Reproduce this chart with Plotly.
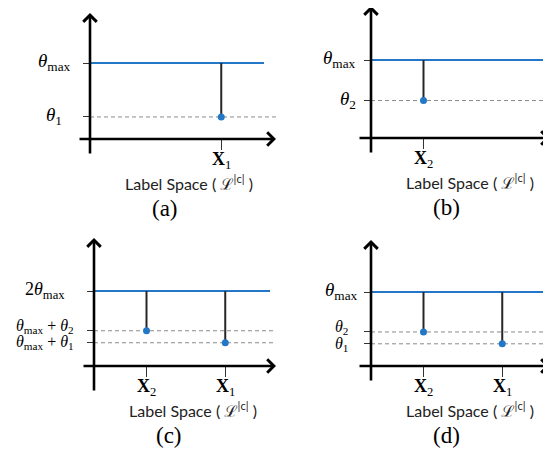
import plotly.graph_objects as go

# The page body has an 8px default margin, so the figure is drawn 8px in.
OFF = 8
W, H = 551 - OFF, 454 - OFF

# ---------------- data ----------------
captions = ["(a)", "(b)", "(c)", "(d)"]
label_names = ["X2", "X1"]
label_positions = [1.0, 2.5]
upper_level = 1.0
upper_texts = ["<i>θ</i><sub>max</sub>", "<i>θ</i><sub>max</sub>",
               "2<i>θ</i><sub>max</sub>", "<i>θ</i><sub>max</sub>"]
a_points = ["X1"]
a_levels = [0.29]
a_level_texts = ["<i>θ</i><sub>1</sub>"]
b_points = ["X2"]
b_levels = [0.48]
b_level_texts = ["<i>θ</i><sub>2</sub>"]
c_points = ["X2", "X1"]
c_levels = [0.47, 0.31]
c_level_texts = ["<i>θ</i><sub>max</sub> + <i>θ</i><sub>2</sub>",
                 "<i>θ</i><sub>max</sub> + <i>θ</i><sub>1</sub>"]
d_points = ["X2", "X1"]
d_levels = [0.46, 0.30]
d_level_texts = ["<i>θ</i><sub>2</sub>", "<i>θ</i><sub>1</sub>"]
x_label_texts = {"X1": "<b>X</b><sub>1</sub>", "X2": "<b>X</b><sub>2</sub>"}
axis_title = "Label Space ( ℒ<sup>|c|</sup> )"

# ---------------- geometry (pixels in the reference window) ----------------
SX = 52.5
geom = [
    dict(ox=90, oy=139, sy=76, xl=78, xt=276, yb=155, yt=13, blue=264, dash=276,
         lab_anchor="center", lab_shift=-36, up_size=19, low_size=19, low_dy=[1]),
    dict(ox=371, oy=138, sy=78, xl=358, xt=550, yb=154, yt=6, blue=543, dash=551,
         lab_anchor="right", lab_shift=-13, up_size=19, low_size=19, low_dy=[1]),
    dict(ox=94, oy=366, sy=75, xl=82, xt=276, yb=392, yt=238, blue=270, dash=276,
         lab_anchor="center", lab_shift=-49, up_size=18, low_size=16, low_dy=[4, 0]),
    dict(ox=371, oy=366, sy=74, xl=358, xt=550, yb=382, yt=240, blue=548, dash=551,
         lab_anchor="center", lab_shift=-30, up_size=19, low_size=16, low_dy=[4, -1]),
]
panels = [
    (a_points, a_levels, a_level_texts),
    (b_points, b_levels, b_level_texts),
    (c_points, c_levels, c_level_texts),
    (d_points, d_levels, d_level_texts),
]

BLUE = "#2278c6"
SERIF = "Liberation Serif, Times New Roman, serif"
SANS = "Lato, Noto Sans, DejaVu Sans, sans-serif"

fig = go.Figure()
layout = dict(width=W, height=H, margin=dict(l=0, r=0, t=0, b=0),
              paper_bgcolor="white", plot_bgcolor="white", showlegend=False)
annotations = []
pos_of = dict(zip(label_names, label_positions))

for i, (g, (pts, levels, ltexts)) in enumerate(zip(geom, panels)):
    k = "" if i == 0 else str(i + 1)
    xr, yr = "x" + k, "y" + k
    ox, oy, sy = g["ox"] - OFF, g["oy"] - OFF, g["sy"]
    xl, xt, yb, yt = g["xl"] - OFF, g["xt"] - OFF, g["yb"] - OFF, g["yt"] - OFF
    blue, dash = g["blue"] - OFF, g["dash"] - OFF
    dl, dr = max(xl - 3, 0), min(dash + 2, W)
    dt, db = max(yt - 3, 0), min(yb + 3, H)
    to_ux = lambda px: (px - ox) / SX
    to_uy = lambda py: (oy - py) / sy

    layout["xaxis" + k] = dict(domain=[dl / W, dr / W], range=[to_ux(dl), to_ux(dr)],
                               anchor="free", position=1 - oy / H,
                               tickvals=[pos_of[p] for p in pts], ticks="outside",
                               ticklen=10, tickwidth=1.2, tickcolor="#333",
                               showticklabels=False, showline=False, showgrid=False,
                               zeroline=False, fixedrange=True)
    layout["yaxis" + k] = dict(domain=[1 - db / H, 1 - dt / H], range=[to_uy(db), to_uy(dt)],
                               anchor="free", position=ox / W,
                               tickvals=[upper_level] + levels, ticks="outside",
                               ticklen=7, tickwidth=1.2, tickcolor="#333",
                               showticklabels=False, showline=False, showgrid=False,
                               zeroline=False, fixedrange=True)

    for lv in levels:
        fig.add_trace(go.Scatter(x=[0, to_ux(dash)], y=[lv, lv], mode="lines",
                                 line=dict(color="#8a8a8a", width=1, dash="4px,3px"),
                                 xaxis=xr, yaxis=yr, hoverinfo="skip"))
    fig.add_trace(go.Scatter(x=[0, to_ux(blue)], y=[upper_level, upper_level],
                             mode="lines", line=dict(color=BLUE, width=2),
                             xaxis=xr, yaxis=yr, hoverinfo="skip"))
    for p, lv in zip(pts, levels):
        fig.add_trace(go.Scatter(x=[pos_of[p], pos_of[p]], y=[lv, upper_level],
                                 mode="lines", line=dict(color="#262626", width=2),
                                 xaxis=xr, yaxis=yr, hoverinfo="skip"))
    fig.add_trace(go.Scatter(x=[pos_of[p] for p in pts], y=levels, mode="markers",
                             marker=dict(color=BLUE, size=7),
                             xaxis=xr, yaxis=yr, hoverinfo="skip", cliponaxis=False))

    annotations.append(dict(xref=xr, yref=yr, axref=xr, ayref=yr,
                            x=to_ux(xt), y=0, ax=to_ux(xl), ay=0, text="",
                            showarrow=True, arrowhead=4, arrowsize=1.0, arrowwidth=2.6,
                            arrowcolor="black", standoff=0, startstandoff=0))
    annotations.append(dict(xref=xr, yref=yr, axref=xr, ayref=yr,
                            x=0, y=to_uy(yt), ax=0, ay=to_uy(yb), text="",
                            showarrow=True, arrowhead=4, arrowsize=1.0, arrowwidth=2.6,
                            arrowcolor="black", standoff=0, startstandoff=0))

    labels = [(upper_level, upper_texts[i], g["up_size"], 1)] + \
             [(lv, t, g["low_size"], dy) for lv, t, dy in zip(levels, ltexts, g["low_dy"])]
    for lv, t, fs, dy in labels:
        annotations.append(dict(xref=xr, yref=yr, x=0, y=lv, text=t, showarrow=False,
                                xanchor=g["lab_anchor"], yanchor="middle",
                                xshift=g["lab_shift"], yshift=dy,
                                font=dict(family=SERIF, size=fs, color="black")))
    for p in pts:
        annotations.append(dict(xref=xr, yref=yr, x=pos_of[p], y=0, text=x_label_texts[p],
                                showarrow=False, xanchor="center", yanchor="middle",
                                yshift=-21, font=dict(family=SERIF, size=18, color="black")))
    annotations.append(dict(xref=xr, yref=yr, x=to_ux(ox + 99), y=0, text=axis_title,
                            showarrow=False, xanchor="center", yanchor="middle",
                            yshift=-43, font=dict(family=SANS, size=16, color="#222")))
    annotations.append(dict(xref=xr, yref=yr, x=to_ux(ox + 75), y=0, text=captions[i],
                            showarrow=False, xanchor="center", yanchor="middle",
                            yshift=-69, font=dict(family=SERIF, size=23, color="black")))

layout["annotations"] = annotations
fig.update_layout(**layout)
fig.write_html("out.html")
